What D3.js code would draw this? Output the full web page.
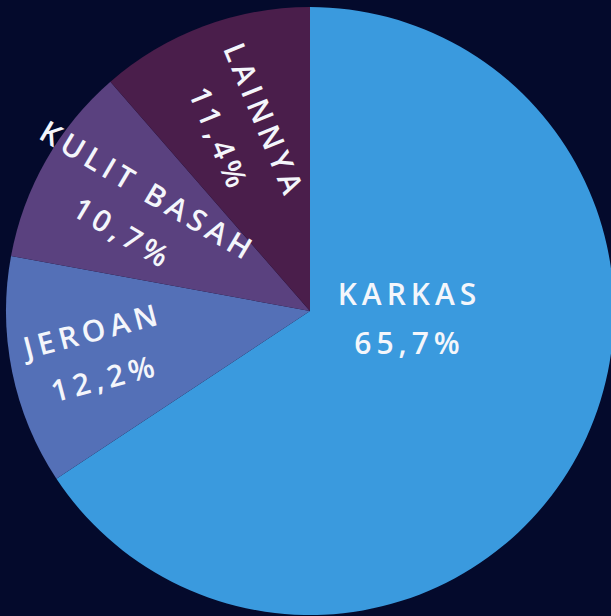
<!DOCTYPE html>
<html>
<head>
<meta charset="utf-8">
<script src="https://cdn.jsdelivr.net/npm/d3@7"></script>
<style>
    html, body { margin: 0; padding: 0; background: #040a2c; overflow: hidden; }
    svg { display: block; }
</style>
</head>
<body>
<svg id="chart"></svg>
<script>
const categories = ['KARKAS', 'JEROAN', 'KULIT BASAH', 'LAINNYA'];
const values = [65.7, 12.2, 10.7, 11.4];
const valueLabels = ['65,7%', '12,2%', '10,7%', '11,4%'];

const width = 611;
const height = 616;
const cx = 310, cy = 311, radius = 304;

const colorScale = d3.scaleOrdinal()
    .domain(categories)
    .range(['#3a9ade', '#5470b7', '#5a417f', '#4a1e4b']);

// label distance from the centre + small tilt tweak (rotated slices only)
const labelR = {'JEROAN': 218, 'KULIT BASAH': 203, 'LAINNYA': 196};
const labelTilt = {'JEROAN': -3, 'KULIT BASAH': 1, 'LAINNYA': -2};

const data = categories.map((c, i) => ({name: c, value: values[i], text: valueLabels[i]}));

const pie = d3.pie()
    .value(d => d.value)
    .sort(null);

const arc = d3.arc()
    .innerRadius(0)
    .outerRadius(radius);

const svg = d3.select('#chart')
    .attr('width', width)
    .attr('height', height);

svg.append('rect')
    .attr('width', width)
    .attr('height', height)
    .attr('fill', '#040a2c');

const g = svg.append('g')
    .attr('transform', `translate(${cx}, ${cy})`);

const arcs = pie(data);

g.selectAll('path')
    .data(arcs)
    .join('path')
    .attr('d', arc)
    .attr('fill', d => colorScale(d.data.name));

const font = '"Open Sans", Lato, sans-serif';
const fontSize = 30;
const spacing = 5;

const labels = g.selectAll('g.label')
    .data(arcs)
    .join('g')
    .attr('class', 'label')
    .attr('transform', d => {
        if (d.data.name === 'KARKAS') {
            return 'translate(97, 7)';
        }
        const mid = (d.startAngle + d.endAngle) / 2;
        const r = labelR[d.data.name];
        const x = Math.sin(mid) * r;
        const y = -Math.cos(mid) * r;
        // radial rotation, text reads from the rim towards the centre
        const rot = mid * 180 / Math.PI - 270 + labelTilt[d.data.name];
        return `translate(${x}, ${y}) rotate(${rot})`;
    });

const addLine = (sel, y, fn) => {
    sel.append('text')
        .attr('x', spacing / 2)
        .attr('y', y)
        .attr('dy', '0.36em')
        .attr('text-anchor', 'middle')
        .attr('fill', '#f4f6fb')
        .style('font-family', font)
        .style('font-weight', 600)
        .style('font-size', fontSize + 'px')
        .style('letter-spacing', spacing + 'px')
        .text(fn);
};

addLine(labels, -24, d => d.data.name);
addLine(labels, 25, d => d.data.text);
</script>
</body>
</html>
